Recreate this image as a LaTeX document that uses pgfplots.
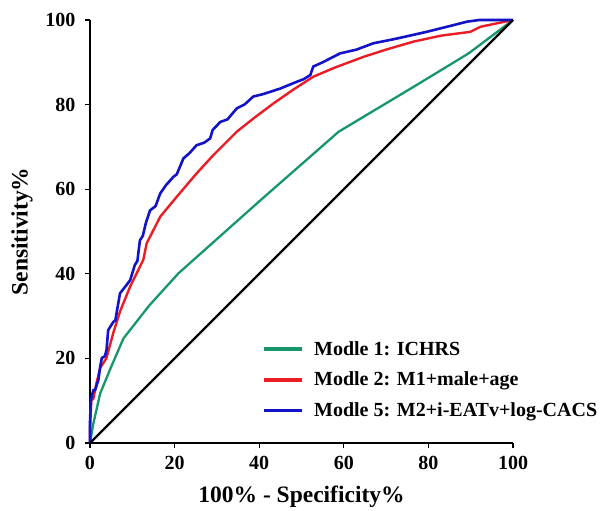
\documentclass[border=0pt]{standalone}
\usepackage{pgfplots}
\pgfplotsset{compat=1.18}
\usepackage{fontspec}
\setmainfont{Liberation Serif}

\definecolor{mgreen}{RGB}{22,150,105}
\definecolor{mred}{RGB}{235,28,36}
\definecolor{mblue}{RGB}{18,18,200}

\begin{document}
\begin{tikzpicture}
\begin{axis}[
  scale only axis, width=423pt, height=423pt,
  xmin=0, xmax=100, ymin=0, ymax=100,
  xtick={0,20,...,100}, ytick={0,20,...,100},
  axis x line=bottom, axis y line=left,
  axis line style={-, line width=1.5pt},
  tick align=outside, major tick length=5pt,
  tick style={line width=1.2pt, black},
  /pgf/number format/assume math mode=true,
  tick label style={font=\bfseries\fontsize{20}{22}\selectfont},
  xticklabel style={yshift=-5pt},
  yticklabel style={xshift=-6pt},
  xlabel={100\% - Specificity\%},
  ylabel={Sensitivity\%},
  label style={font=\bfseries\fontsize{23.5}{26}\selectfont},
  xlabel style={yshift=-9pt},
  ylabel style={yshift=6pt},
  clip=false,
  legend cell align=left,
  legend style={at={(axis cs:40.7,24.6)}, anchor=north west, draw=none, fill=none,
    inner sep=0pt, row sep=11.5pt, font=\bfseries\fontsize{20}{22}\selectfont},
  legend image code/.code={\draw[#1, line width=3.8pt] (0pt,0pt) -- (38pt,0pt);},
  /tikz/every even column/.append style={column sep=0pt},
]
\addplot[mgreen, line width=2.3pt] coordinates {
(0,0)(0.8,4.6)(2.4,11.7)(5,18)(7.9,24.7)(14,32.5)(20.9,40.1)(40.2,57.3)
(58.8,73.6)(76.5,84.2)(89.5,92.1)(100,100)};
\addlegendentry{\hspace{8pt}Modle 1: ICHRS}
\addplot[mred, line width=2.4pt] coordinates {
(0,0)(0,3)(0.3,10)(0.8,10.5)(1.5,14)(2.4,17.7)(3.9,20.1)(5.5,26)(7.1,31.1)
(9.5,37)(12.6,43.3)(13.4,47.2)(16.6,53.5)(20.5,58.2)(25,63.5)(29.2,68.1)
(34.7,73.6)(39,77)(43.4,80.3)(48,83.5)(52.8,86.6)(58,88.8)(64.7,91.3)(70,93)
(76.5,94.9)(83,96.3)(89.9,97.2)(92.3,98.4)(100,100)};
\addlegendentry{\hspace{8pt}Modle 2: M1+male+age}
\addplot[mblue, line width=2.6pt] coordinates {
(0,0)(0,5)(0.2,10)(0.4,11)(0.8,12.5)(1.2,12.5)(2.0,15)(2.4,18)(2.8,20.1)
(3.5,20.5)(3.9,21.9)(4.3,26.7)(5.5,28.6)(6.0,29)(6.5,32)(7.1,35.4)(8.6,37.3)
(9.5,38.5)(10.6,42.1)(11.2,43)(11.8,47.9)(12.5,49)(13.2,52)(14.2,55)(15.5,56)
(16.6,59)(18,61)(19.7,62.9)(20.5,63.5)(22.1,67.3)(23.5,68.5)(25.2,70.4)(27,71)
(28.4,72)(29,74)(30.8,75.9)(32.5,76.5)(34.7,79.1)(36.5,80)(38.6,81.9)(41,82.5)
(45,83.8)(48.9,85.4)(50.5,86)(52.1,87)(52.5,88.2)(52.8,89)(55,90)(59.1,92.1)
(63,93)(67,94.5)(72,95.5)(76.5,96.5)(80,97.3)(84.4,98.4)(89.1,99.6)(92,100)(100,100)};
\addlegendentry{\hspace{8pt}Modle 5: M2+i-EATv+log-CACS}
\addplot[black, line width=2.3pt, forget plot] coordinates {(0,0)(100,100)};
\coordinate (bl) at (rel axis cs:0,0);
\coordinate (tr) at (rel axis cs:1,1);
\end{axis}
\path ([shift={(-90pt,-62pt)}]bl) rectangle ([shift={(90pt,20pt)}]tr);
\end{tikzpicture}
\end{document}
